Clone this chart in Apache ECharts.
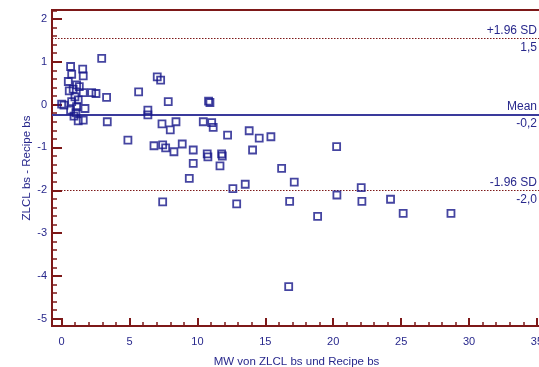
<!DOCTYPE html>
<html>
<head>
<meta charset="utf-8">
<script src="https://cdn.jsdelivr.net/npm/echarts@6/dist/echarts.min.js"></script>
<style>
  html, body { margin: 0; padding: 0; background: #ffffff; }
  #chart { width: 539px; height: 367px; }
</style>
</head>
<body>
<div id="chart"></div>
<script>
// Bland-Altman plot: mean of both methods (x) vs. their difference (y)
const meanOfMethods = [
  2.95, 0.66, 1.55, 0.74, 1.59, 0.49, 1.10, 1.30, 0.56, 0.85,
  1.59, 2.21, 2.53, 3.31, 0.00, 0.17, 0.74, 1.22, 0.98, 0.66,
  1.10, 1.72, 1.05, 0.91, 1.22, 1.59, 3.36,
  7.04, 7.29, 5.67, 7.85, 10.82, 10.92, 6.35, 6.35, 7.39, 8.42,
  8.00, 10.43, 11.05, 11.16, 12.22, 13.81, 4.88, 6.80, 7.44, 7.66,
  8.88, 8.27, 9.69, 10.72, 10.77, 11.78, 11.83, 14.06, 9.69, 11.66,
  9.40, 13.52, 12.61, 7.44, 12.89,
  14.55, 15.41, 20.25, 16.20, 17.13, 22.06, 16.79, 20.27, 22.11,
  18.85, 16.72, 24.22, 25.15, 28.67
];
const differences = [
  1.08, 0.89, 0.83, 0.71, 0.67, 0.54, 0.46, 0.42, 0.32, 0.36,
  0.28, 0.28, 0.26, 0.17, 0.01, -0.01, 0.07, 0.11, 0.18, -0.13,
  -0.05, -0.09, -0.19, -0.27, -0.38, -0.36, -0.40,
  0.65, 0.57, 0.30, 0.07, 0.08, 0.05, -0.13, -0.24, -0.45, -0.40,
  -0.59, -0.40, -0.42, -0.53, -0.71, -0.61, -0.83, -0.96, -0.94, -1.01,
  -0.92, -1.10, -1.06, -1.15, -1.22, -1.15, -1.20, -1.06, -1.37, -1.43,
  -1.72, -1.86, -1.96, -2.27, -2.32,
  -0.78, -0.75, -0.98, -1.49, -1.81, -1.94, -2.26, -2.11, -2.26,
  -2.61, -4.25, -2.21, -2.54, -2.54
];

// Mean difference and limits of agreement
const meanDiff = -0.23;
const upperLimit = 1.54;
const lowerLimit = -2.01;
const limitNames = ['+1.96 SD', 'Mean', '-1.96 SD'];

// Axis ticks and labels
const xMajorTicks = [0, 5, 10, 15, 20, 25, 30, 35];
const yMajorTicks = [-5, -4, -3, -2, -1, 0, 1, 2];

const navy = '#16168a';
const textNavy = '#28288c';
const maroon = '#7d1818';

const xMinorTicks = [];
for (let i = 0; i <= 35; i++) if (i % 5 !== 0) xMinorTicks.push(i);
const yMinorTicks = [];
for (let i = -25; i <= 11; i++) if (i % 5 !== 0) yMinorTicks.push(+(i * 0.2).toFixed(1));

const fmt = v => v.toFixed(1).replace('.', ',');

const points = meanOfMethods.map((x, i) => [x, differences[i]]);

const xRange = { min: -0.71, max: 35.3 };
const yRange = { min: -5.17, max: 2.21 };

// Each reference line carries its name above and its value below the right end
function refLine(value, topText, lineStyle) {
  return [
    {
      yAxis: value,
      lineStyle: lineStyle,
      label: { show: true, position: 'insideEndTop', formatter: topText, distance: [4, 2] }
    },
    {
      yAxis: value,
      lineStyle: { color: 'rgba(255,255,255,0)', width: 1, type: 'solid' },
      label: { show: true, position: 'insideEndBottom', formatter: fmt(value), distance: [4, 3] }
    }
  ];
}

const dotted = { color: maroon, width: 1, type: [1.5, 1.5] };
const solid = { color: '#3a3a9c', width: 2, type: 'solid' };

const chart = echarts.init(document.getElementById('chart'), null, { renderer: 'canvas' });
chart.setOption({
  animation: false,
  backgroundColor: '#ffffff',
  textStyle: { fontFamily: 'Liberation Sans, Arial, sans-serif' },
  grid: {
    left: 52, top: 10, right: -2, bottom: 41,
    outerBoundsMode: 'none',
    containLabel: false,
    show: true, borderColor: maroon, borderWidth: 2, backgroundColor: 'transparent'
  },
  xAxis: [
    {
      type: 'value', position: 'bottom', offset: 0,
      min: xRange.min, max: xRange.max,
      axisLine: { show: true, onZero: false, lineStyle: { color: maroon, width: 2 } },
      axisTick: { show: true, inside: true, length: 8, customValues: xMajorTicks, lineStyle: { color: maroon, width: 2 } },
      axisLabel: { show: true, customValues: xMajorTicks, color: textNavy, fontSize: 11, margin: 10, hideOverlap: false },
      splitLine: { show: false },
      name: 'MW von ZLCL bs und Recipe bs',
      nameLocation: 'middle', nameGap: 30, nameMoveOverlap: false,
      nameTextStyle: { color: textNavy, fontSize: 11.5 }
    },
    {
      type: 'value', position: 'bottom', offset: 0, gridIndex: 0,
      min: xRange.min, max: xRange.max,
      axisLine: { show: false, onZero: false },
      axisTick: { show: true, inside: true, length: 4, customValues: xMinorTicks, lineStyle: { color: maroon, width: 1.5 } },
      axisLabel: { show: false },
      splitLine: { show: false }
    }
  ],
  yAxis: [
    {
      type: 'value', position: 'left', offset: 0,
      min: yRange.min, max: yRange.max,
      axisLine: { show: true, onZero: false, lineStyle: { color: maroon, width: 2 } },
      axisTick: { show: true, inside: true, length: 10, customValues: yMajorTicks, lineStyle: { color: maroon, width: 2 } },
      axisLabel: { show: true, customValues: yMajorTicks, color: textNavy, fontSize: 11, margin: 5 },
      splitLine: { show: false },
      name: 'ZLCL bs - Recipe bs',
      nameLocation: 'middle', nameGap: 19, nameMoveOverlap: false,
      nameTextStyle: { color: textNavy, fontSize: 11.5 }
    },
    {
      type: 'value', position: 'left', offset: 0, gridIndex: 0,
      min: yRange.min, max: yRange.max,
      axisLine: { show: false, onZero: false },
      axisTick: { show: true, inside: true, length: 5, customValues: yMinorTicks, lineStyle: { color: maroon, width: 1.5 } },
      axisLabel: { show: false },
      splitLine: { show: false }
    }
  ],
  series: [
    {
      type: 'scatter',
      xAxisIndex: 0, yAxisIndex: 0,
      data: points,
      symbol: 'rect',
      symbolSize: 7,
      itemStyle: { color: 'rgba(0,0,0,0)', borderColor: navy, borderWidth: 1.8 },
      z: 5,
      markLine: {
        silent: true,
        symbol: ['none', 'none'],
        label: { color: textNavy, fontSize: 12 },
        emphasis: { disabled: true },
        data: [
          ...refLine(upperLimit, limitNames[0], dotted),
          ...refLine(meanDiff, limitNames[1], solid),
          ...refLine(lowerLimit, limitNames[2], dotted)
        ]
      }
    }
  ]
});
</script>
</body>
</html>
